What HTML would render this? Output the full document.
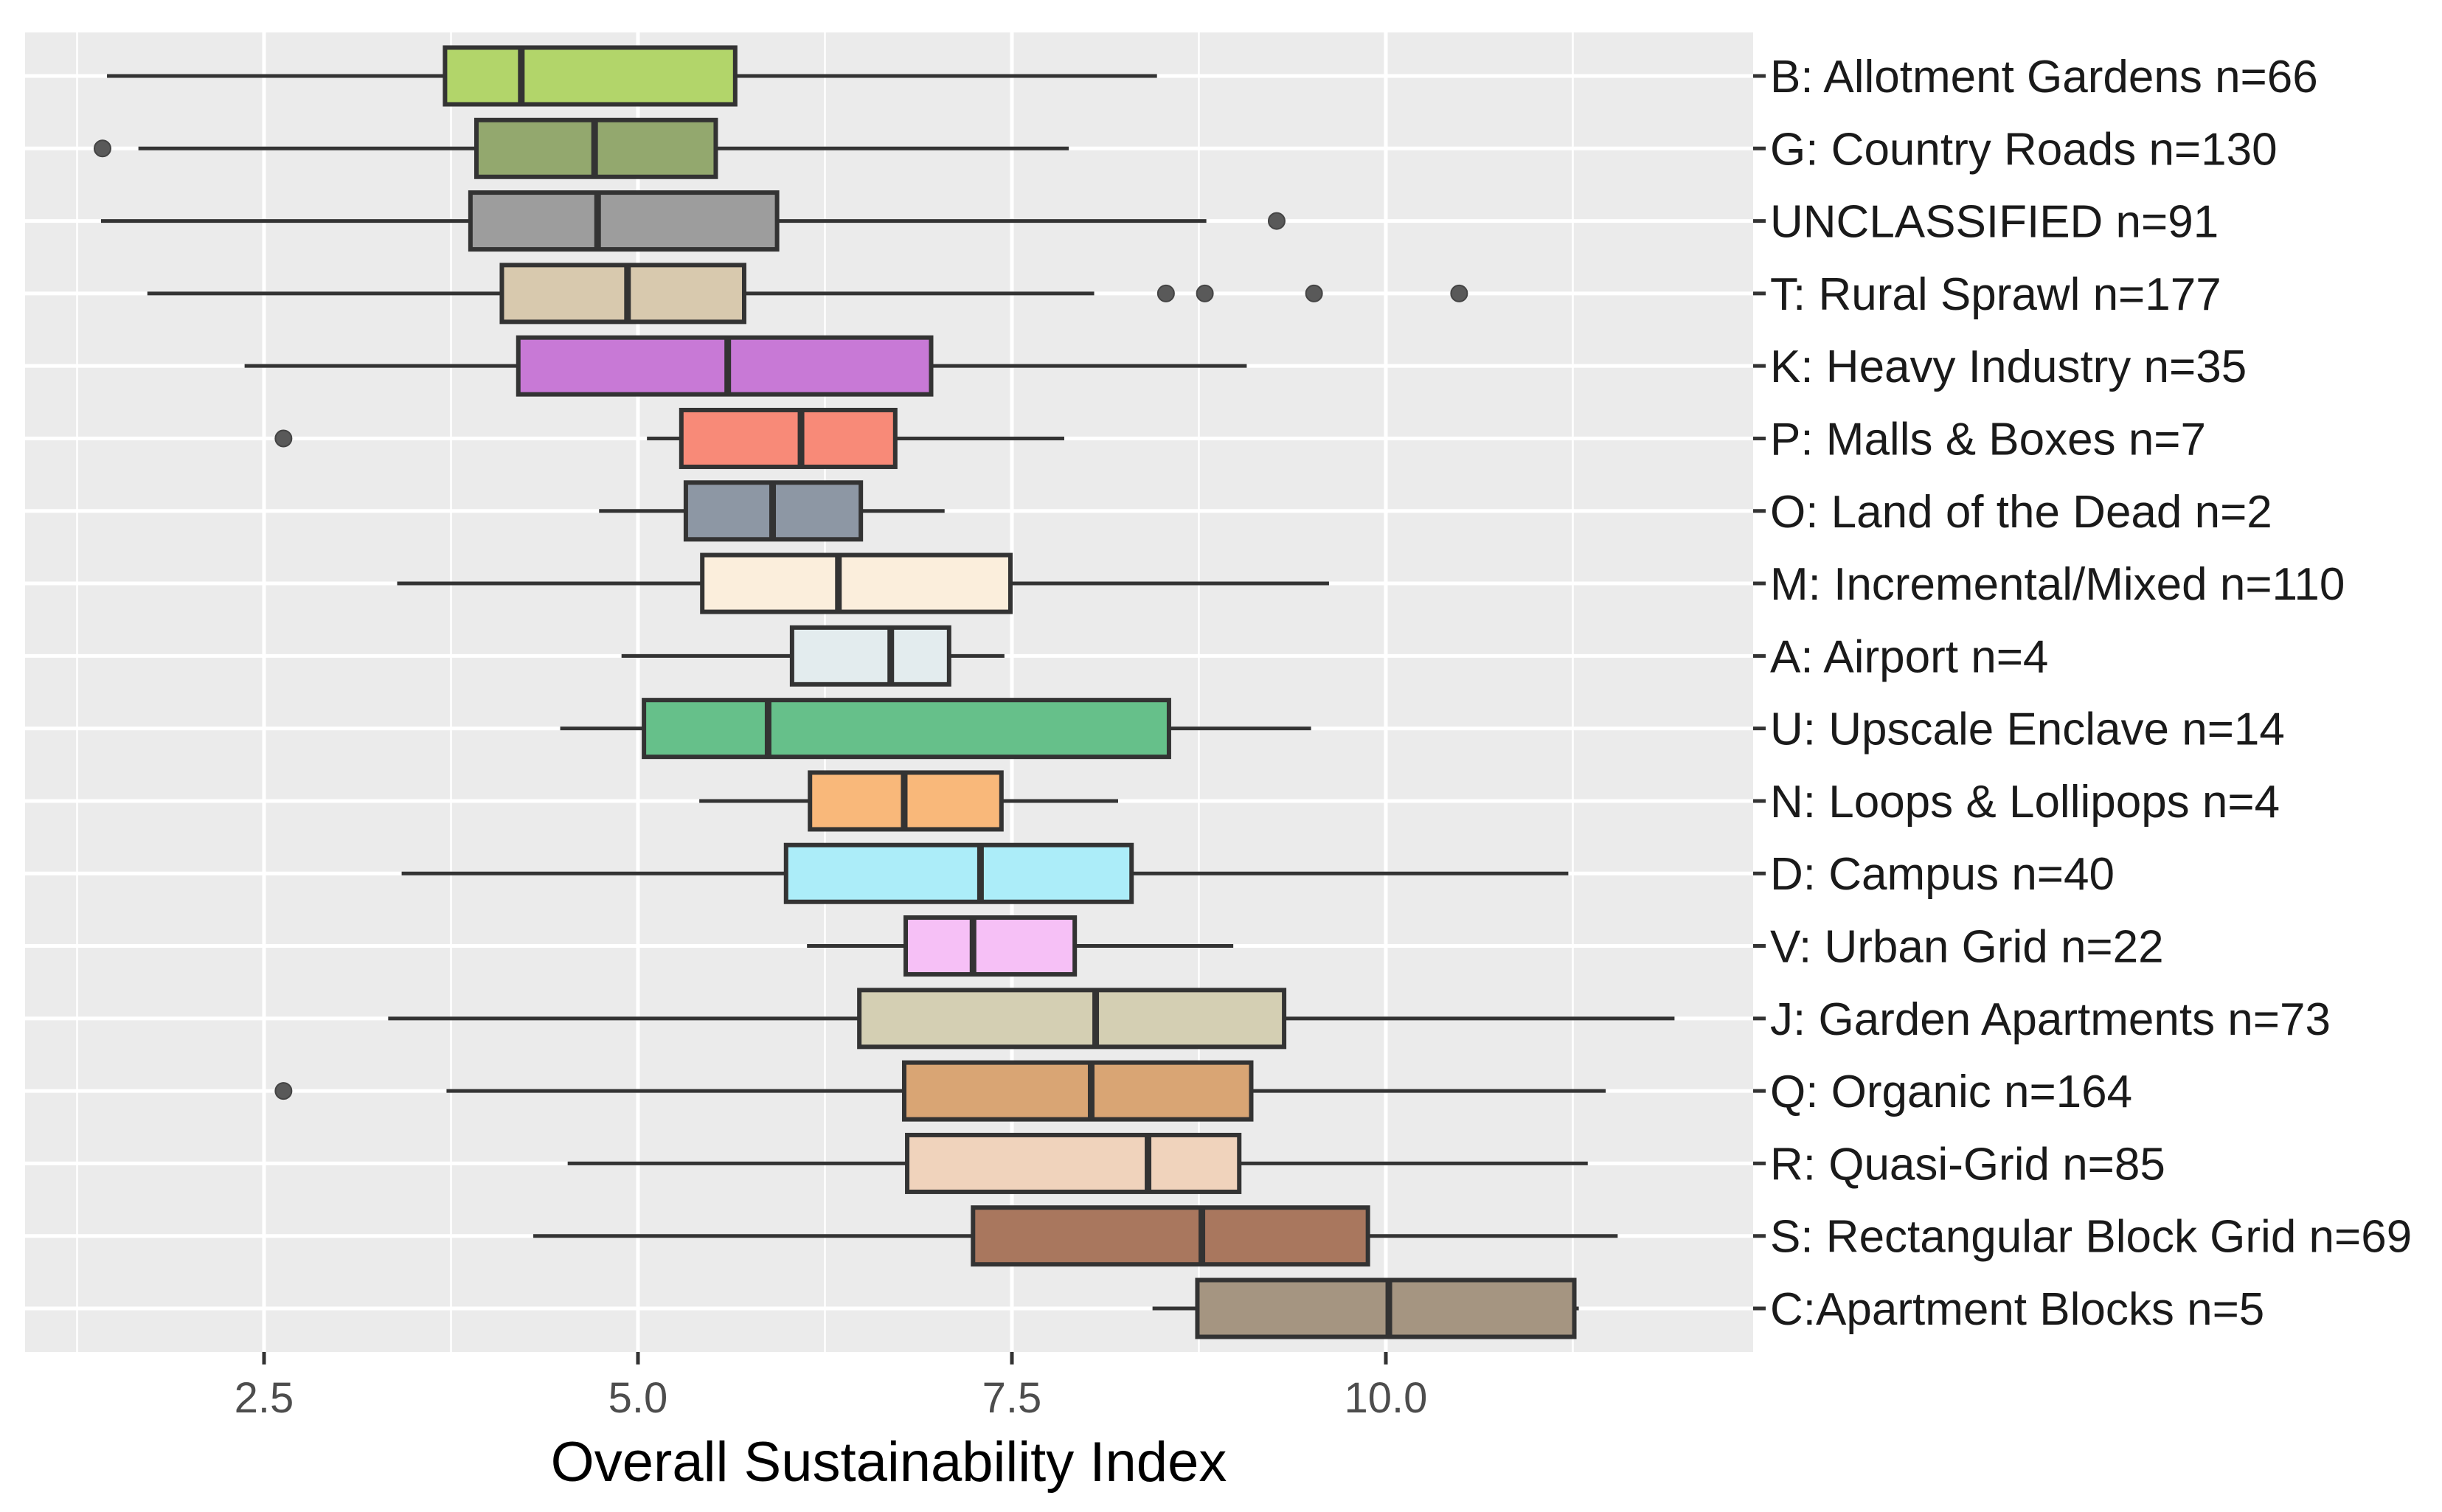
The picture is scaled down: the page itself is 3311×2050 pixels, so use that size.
<!DOCTYPE html>
<html><head><meta charset="utf-8"><style>
html,body{margin:0;padding:0;background:#fff;}
svg{display:block;font-family:"Liberation Sans",sans-serif;}
</style></head><body>
<svg id="chart" width="3311" height="2050" viewBox="0 0 3311 2050" xmlns="http://www.w3.org/2000/svg">
<rect x="34" y="44" width="2343" height="1789" fill="#ebebeb"/>
<g id="grid"></g><g id="boxes"></g><g id="axes"></g>
<text x="1205" y="2008" font-size="76" text-anchor="middle" fill="#000">Overall Sustainability Index</text>
</svg>
<script>
const categories=["B: Allotment Gardens n=66","G: Country Roads n=130","UNCLASSIFIED n=91","T: Rural Sprawl n=177","K: Heavy Industry n=35","P: Malls & Boxes n=7","O: Land of the Dead n=2","M: Incremental/Mixed n=110","A: Airport n=4","U: Upscale Enclave n=14","N: Loops & Lollipops n=4","D: Campus n=40","V: Urban Grid n=22","J: Garden Apartments n=73","Q: Organic n=164","R: Quasi-Grid n=85","S: Rectangular Block Grid n=69","C:Apartment Blocks n=5"];
const lowWhisker=[1.45,1.66,1.41,1.72,2.37,5.06,4.74,3.39,4.89,4.48,5.41,3.42,6.13,3.33,3.72,4.53,4.30,8.44];
const q1=[3.71,3.92,3.88,4.09,4.20,5.29,5.32,5.43,6.03,5.04,6.15,5.99,6.79,6.48,6.78,6.80,7.24,8.74];
const median=[4.22,4.71,4.73,4.93,5.60,6.09,5.90,6.34,6.69,5.87,6.78,7.29,7.24,8.06,8.03,8.41,8.77,10.02];
const q3=[5.65,5.52,5.93,5.71,6.96,6.72,6.49,7.49,7.08,8.55,7.43,8.30,7.92,9.32,9.10,9.02,9.88,11.26];
const highWhisker=[8.47,7.88,8.80,8.05,9.07,7.85,7.05,9.62,7.45,9.50,8.21,11.22,8.98,11.93,11.47,11.35,11.55,11.29];
const outliers=[[],[1.42],[9.27],[8.53,8.79,9.52,10.49],[],[2.63],[],[],[],[],[],[],[],[],[2.63],[],[],[]];
const fills=["#b2d56a","#93a86e","#9d9d9d","#d8c9ae","#c879d6","#f88a78","#8d97a4","#fbeedc","#e3ecee","#66c08a","#f9b87a","#acedf9","#f6c0f6","#d4cfb3","#d9a574","#f0d3bc","#a9775e","#a59581"];
const majorTicks=[2.5,5.0,7.5,10.0];
const tickLabels=["2.5","5.0","7.5","10.0"];
const minorTicks=[1.25,3.75,6.25,8.75,11.25];

const NS="http://www.w3.org/2000/svg";
const PL=34,PR=2377,PT=44,PB=1833;
function x(v){return 358+(v-2.5)*202.8;}
const step=(PB-PT)/(categories.length-1+1.2);
function y(i){return PT+step*(0.6+i);}
function mk(tag,attrs,parent){const e=document.createElementNS(NS,tag);for(const k in attrs)e.setAttribute(k,attrs[k]);parent.appendChild(e);return e;}
const grid=document.getElementById('grid'),boxes=document.getElementById('boxes'),axes=document.getElementById('axes');
minorTicks.forEach(v=>{const l=mk('line',{x1:x(v),x2:x(v),y1:PT,y2:PB,stroke:'#fff','stroke-width':2.5},grid);

});
majorTicks.forEach((v,i)=>{const l=mk('line',{x1:x(v),x2:x(v),y1:PT,y2:PB,stroke:'#fff','stroke-width':5},grid);


const t=mk('line',{x1:x(v),x2:x(v),y1:PB,y2:PB+17,stroke:'#333','stroke-width':5},axes);


const tx=mk('text',{x:x(v),y:PB+82,'font-size':58,'text-anchor':'middle',fill:'#4d4d4d'},axes);tx.textContent=tickLabels[i];

});
categories.forEach((c,i)=>{const yy=y(i);
const g=mk('line',{x1:PL,x2:PR,y1:yy,y2:yy,stroke:'#fff','stroke-width':5},grid);


const t=mk('line',{x1:PR,x2:PR+17,y1:yy,y2:yy,stroke:'#333','stroke-width':5},axes);


const lb=mk('text',{x:2400,y:yy+22,'font-size':62,fill:'#1a1a1a'},axes);lb.textContent=c;


const grp=mk('g',{},boxes);


mk('line',{x1:x(lowWhisker[i]),x2:x(q1[i]),y1:yy,y2:yy,stroke:'#333','stroke-width':5},grp);
mk('line',{x1:x(q3[i]),x2:x(highWhisker[i]),y1:yy,y2:yy,stroke:'#333','stroke-width':5},grp);
const h=38.5;
mk('rect',{x:x(q1[i]),y:yy-h,width:x(q3[i])-x(q1[i]),height:2*h,fill:fills[i],stroke:'#333','stroke-width':6},grp);
mk('line',{x1:x(median[i]),x2:x(median[i]),y1:yy-h,y2:yy+h,stroke:'#333','stroke-width':9},grp);
outliers[i].forEach(o=>{const p=mk('circle',{cx:x(o),cy:yy,r:11,fill:'#595959',stroke:'#444','stroke-width':2},grp);

});
});
</script>
</body></html>
